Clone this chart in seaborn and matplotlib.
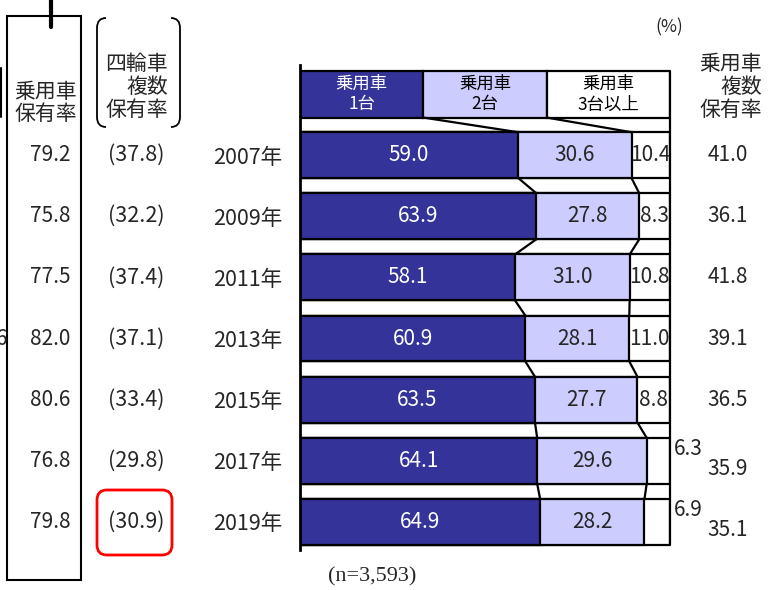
import numpy as np
import pandas as pd
import matplotlib.pyplot as plt
import seaborn as sns
from matplotlib.transforms import blended_transform_factory
from matplotlib.patches import FancyBboxPatch, Rectangle, PathPatch
from matplotlib.path import Path

# データ (%)
years = ['2007年', '2009年', '2011年', '2013年', '2015年', '2017年', '2019年']
one_car = [59.0, 63.9, 58.1, 60.9, 63.5, 64.1, 64.9]
two_cars = [30.6, 27.8, 31.0, 28.1, 27.7, 29.6, 28.2]
three_plus = [10.4, 8.3, 10.8, 11.0, 8.8, 6.3, 6.9]
car_rate = [79.2, 75.8, 77.5, 82.0, 80.6, 76.8, 79.8]
multi4_rate = [37.8, 32.2, 37.4, 37.1, 33.4, 29.8, 30.9]
multi_rate = [41.0, 36.1, 41.8, 39.1, 36.5, 35.9, 35.1]
legend_labels = ['乗用車\n1台', '乗用車\n2台', '乗用車\n3台以上']
colors = ['#333399', '#CCCCFF', '#FFFFFF']

sns.set_style('white')
plt.rcParams['font.family'] = ['Noto Sans CJK JP', 'DejaVu Sans']

df = pd.DataFrame({'year': years, 'v1': one_car, 'v2': two_cars, 'v3': three_plus})
df['c1'] = df['v1']
df['c2'] = df['v1'] + df['v2']
df['c3'] = df['c2'] + df['v3']

W, H = 779, 590
fig = plt.figure(figsize=(W / 100, H / 100), dpi=100)
ax = fig.add_axes([300 / W, 40 / H, 370 / W, 485 / H])

bar_h = 0.75
lw = 1.6
fs = 15
# 累積値を後ろから重ねて描いて積み上げ棒にする
for col, c in zip(['c3', 'c2', 'c1'], colors[::-1]):
    sns.barplot(data=df, x=col, y='year', order=years, orient='h', color=c,
                saturation=1, edgecolor='black', linewidth=lw, width=bar_h,
                errorbar=None, ax=ax)

# 凡例の見出し行
hdr_h = 0.77
n = len(legend_labels)
for i, (lab, c) in enumerate(zip(legend_labels, colors)):
    ax.barh(-1, 100 / n, left=i * 100 / n, height=hdr_h, color=c,
            edgecolor='black', linewidth=lw)
    ax.text((i + 0.5) * 100 / n, -1, lab, ha='center', va='center',
            fontsize=12.5, linespacing=1.2,
            color='white' if i == 0 else 'black')

# 区切り線 (前の行の境界から次の行の境界へ)
bounds = [[100 / n, 200 / n]] + [[a, b] for a, b in zip(df['c1'], df['c2'])]
halves = [hdr_h / 2] + [bar_h / 2] * len(years)
for i in range(len(years)):
    for b0, b1 in zip(bounds[i], bounds[i + 1]):
        ax.plot([b0, b1], [i - 1 + halves[i], i - bar_h / 2], color='black',
                lw=lw, solid_capstyle='butt')
ax.plot([100, 100], [-1 - hdr_h / 2, len(years) - 1 + bar_h / 2],
        color='black', lw=lw, clip_on=False)

# 棒の中の数値
for i, r in df.iterrows():
    ax.text(r['c1'] / 2, i, f"{r['v1']:.1f}", ha='center', va='center',
            color='white', fontsize=fs)
    ax.text(r['c1'] + r['v2'] / 2, i, f"{r['v2']:.1f}", ha='center',
            va='center', fontsize=fs)
    if r['v3'] >= 7:
        ax.text(r['c2'] + r['v3'] / 2, i, f"{r['v3']:.1f}", ha='center',
                va='center', fontsize=fs)

ax.set_xlim(0, 100)
ax.set_ylim(6.46, -1.475)
ax.set_xlabel('')
ax.set_ylabel('')
ax.set_xticks([])
ax.set_yticks(range(len(years)))
ax.set_yticklabels(years, fontsize=15.5)
ax.tick_params(axis='y', length=0, pad=13)
for s in ['top', 'right', 'bottom']:
    ax.spines[s].set_visible(False)
ax.spines['left'].set_linewidth(2)
ax.spines['left'].set_color('black')

# 周りの注記用の重ね軸 (ピクセル座標)
ov = fig.add_axes([0, 0, 1, 1])
ov.set_xlim(0, W)
ov.set_ylim(H, 0)
ov.axis('off')
ov.patch.set_visible(False)
row = blended_transform_factory(ov.transData, ax.transData)

for i in range(len(years)):
    ov.text(50, i, f'{car_rate[i]:.1f}', transform=row, ha='center',
            va='center', fontsize=fs)
    ov.text(136, i, f'({multi4_rate[i]:.1f})', transform=row, ha='center',
            va='center', fontsize=15.5)
    low = three_plus[i] < 7
    ov.text(728, i + (0.13 if low else 0), f'{multi_rate[i]:.1f}',
            transform=row, ha='center', va='center', fontsize=fs)
    if low:
        ov.text(674, i - 0.2, f'{three_plus[i]:.1f}', transform=row,
                ha='left', va='center', fontsize=fs)
ov.text(7, 3, '6', transform=row, ha='right', va='center', fontsize=fs)

ov.text(46, 103, '乗用車\n保有率', ha='center', va='center', fontsize=15,
        linespacing=1.0)
ov.text(168, 87, '四輪車\n複数\n保有率', ha='right', va='center',
        fontsize=15, linespacing=1.05, multialignment='right')
ov.text(762, 87, '乗用車\n複数\n保有率', ha='right', va='center',
        fontsize=15, linespacing=1.05, multialignment='right')
ov.text(669, 27, '(%)', ha='center', va='center', fontsize=12.5)
ov.text(372, 577, '(n=3,593)', ha='center', va='center', fontsize=16,
        family='Liberation Serif')

ov.add_patch(Rectangle((7, 16), 74, 564, fill=False, ec='black', lw=1.5))
ov.plot([51, 51], [0, 27], color='black', lw=3)
ov.plot([1, 1], [68, 117], color='black', lw=1.5)

codes = [Path.MOVETO, Path.CURVE3, Path.CURVE3, Path.LINETO, Path.CURVE3,
         Path.CURVE3]
for x0, d in [(97, 1), (180, -1)]:
    verts = [(x0 + 9 * d, 18), (x0, 18), (x0, 28), (x0, 117), (x0, 127),
             (x0 + 9 * d, 127)]
    ov.add_patch(PathPatch(Path(verts, codes), fill=False, ec='black', lw=1.3))

ov.add_patch(FancyBboxPatch((97, 490), 75, 65,
                            boxstyle='round,pad=0,rounding_size=10',
                            fill=False, ec='#FF0000', lw=2))

fig.savefig('out.png', dpi=100)
